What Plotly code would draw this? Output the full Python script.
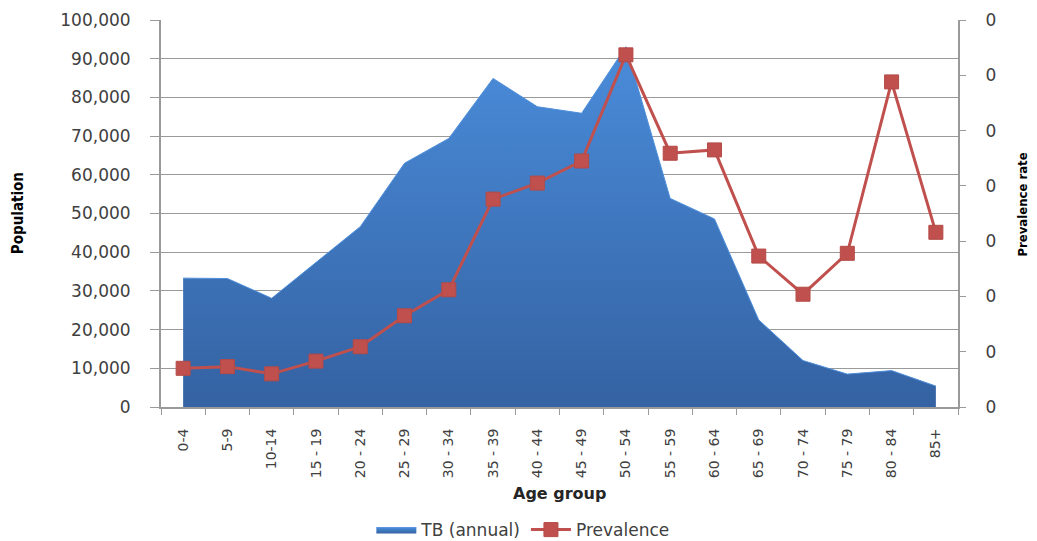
import plotly.graph_objects as go

# Age groups and values
age_groups = ["0-4", "5-9", "10-14", "15 - 19", "20 - 24", "25 - 29", "30 - 34", "35 - 39",
              "40 - 44", "45 - 49", "50 - 54", "55 - 59", "60 - 64", "65 - 69", "70 - 74",
              "75 - 79", "80 - 84", "85+"]
tb_annual = [33300, 33200, 28100, 37400, 46600, 63000, 69400, 84900, 77600, 75900,
             93100, 53900, 48600, 22500, 12000, 8500, 9400, 5400]
prevalence = [0.00070, 0.00073, 0.00060, 0.00083, 0.00109, 0.00165, 0.00212, 0.00376,
              0.00405, 0.00445, 0.00637, 0.00459, 0.00465, 0.00273, 0.00204, 0.00278,
              0.00588, 0.00316]

TICK_FONT = dict(family="DejaVu Sans", size=17, color="#404040")
AXIS_GREY = "#9a9a9a"
NARROW = "DejaVu Sans Condensed, Liberation Sans, sans-serif"

fig = go.Figure()

# area series, vertical gradient like the Excel fill
fig.add_trace(go.Scatter(
    x=age_groups, y=tb_annual, name="TB (annual)",
    mode="lines", line=dict(color="#4f8fdc", width=1),
    fill="tozeroy",
    fillgradient=dict(type="vertical", start=0, stop=93100,
                      colorscale=[[0, "#3462a2"], [1, "#4a8cda"]]),
))

fig.add_trace(go.Scatter(
    x=age_groups, y=prevalence, name="Prevalence", yaxis="y2",
    mode="lines+markers",
    line=dict(color="#c0504d", width=3),
    marker=dict(symbol="square", size=14, color="#c0504d",
                line=dict(color="#b44a47", width=1)),
))

# page body adds an 8px margin, so the figure is 8px smaller and shifted
fig.update_layout(
    width=1029, height=533,
    margin=dict(l=153, r=79, t=12, b=134, autoexpand=False),
    paper_bgcolor="white", plot_bgcolor="white",
    showlegend=True,
    legend=dict(orientation="h", x=0.454, xanchor="center", y=-0.318, yanchor="middle",
                font=dict(family="DejaVu Sans", size=17, color="#404040"),
                itemwidth=40, bgcolor="rgba(0,0,0,0)"),
    xaxis=dict(type="category", range=[-0.5, 17.5], tickangle=-90, automargin=False,
               tickfont=dict(family="DejaVu Sans", size=14, color="#404040"),
               showline=True, linecolor=AXIS_GREY, linewidth=2,
               ticks="outside", tickson="boundaries", ticklen=6, tickcolor=AXIS_GREY,
               ticklabelstandoff=14, showgrid=False),
    yaxis=dict(range=[0, 100000], dtick=10000, tickformat=",", tickfont=TICK_FONT,
               automargin=False,
               showgrid=True, gridcolor=AXIS_GREY, gridwidth=1,
               showline=True, linecolor=AXIS_GREY, linewidth=2,
               ticks="outside", ticklen=9, tickcolor=AXIS_GREY,
               ticklabelstandoff=16, zeroline=False),
    yaxis2=dict(overlaying="y", side="right", range=[0, 0.007], dtick=0.001,
                tickformat=".0f", tickfont=TICK_FONT, showgrid=False, automargin=False,
                showline=True, linecolor=AXIS_GREY, linewidth=2,
                ticks="outside", ticklen=6, tickcolor=AXIS_GREY,
                ticklabelstandoff=16, zeroline=False),
    annotations=[
        dict(text="<b>Population</b>", xref="paper", yref="paper", x=-0.1794, y=0.501,
             xanchor="center", yanchor="middle", textangle=-90, showarrow=False,
             font=dict(family=NARROW, size=15, color="black")),
        dict(text="<b>Prevalence rate</b>", xref="paper", yref="paper", x=1.081, y=0.522,
             xanchor="center", yanchor="middle", textangle=-90, showarrow=False,
             font=dict(family=NARROW, size=13, color="black")),
        dict(text="<b>Age group</b>", xref="paper", yref="paper", x=0.5006, y=-0.2248,
             xanchor="center", yanchor="middle", showarrow=False,
             font=dict(family="DejaVu Sans", size=16, color="#262626")),
    ],
)

fig.write_html("out.html")
